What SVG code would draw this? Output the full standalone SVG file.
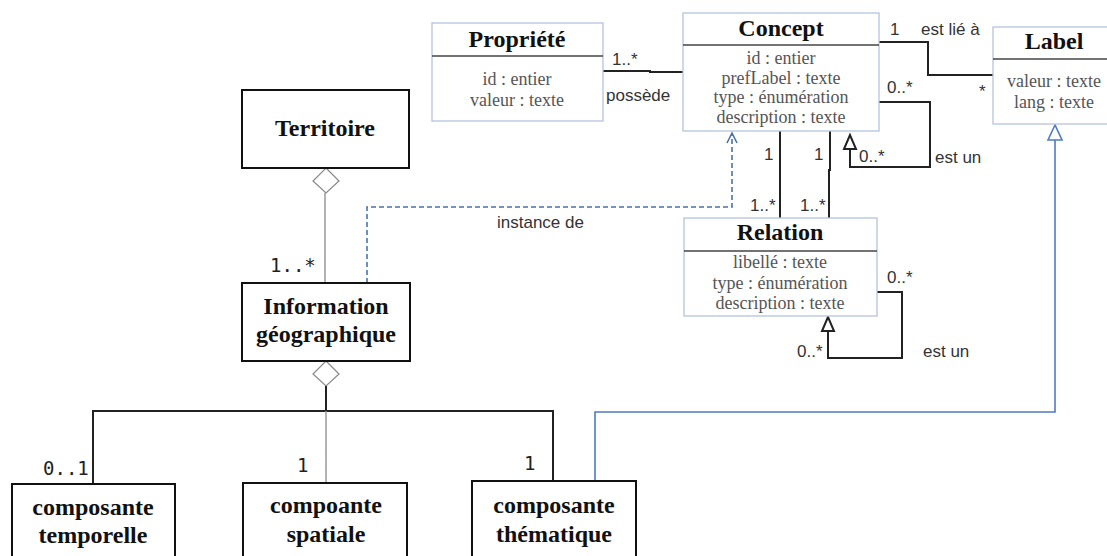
<svg xmlns="http://www.w3.org/2000/svg" width="1107" height="556" viewBox="0 0 1107 556">
<style>
.uml{fill:#fff;stroke:#b4c4dc;stroke-width:1.3}
.div{stroke:#444;stroke-width:1.3}
.box{fill:#fff;stroke:#111;stroke-width:2}
.title{font-family:"Liberation Serif",serif;font-weight:bold;font-size:24px;fill:#111;text-anchor:middle}
.attr{font-family:"Liberation Serif",serif;font-size:18px;fill:#555;text-anchor:middle}
.lbl{font-family:"Liberation Sans",Arial,sans-serif;font-size:17px;fill:#333}
.mono{font-family:"DejaVu Sans Mono",monospace;font-size:19px;fill:#222}
.ln{fill:none;stroke:#222;stroke-width:2}
.gray{fill:none;stroke:#999;stroke-width:1.5}
.blue{fill:none;stroke:#4f7bbf;stroke-width:1.6}
.dash{fill:none;stroke:#4a72b0;stroke-width:1.6;stroke-dasharray:5 3}
.tri{fill:#fff;stroke:#222;stroke-width:2}
.dia{fill:#fff;stroke:#888;stroke-width:1.2}
</style>

<g id="connectors">
  <!-- Propriété - Concept -->
  <polyline class="ln" points="603,71 650,71 650,72 683,72"/>
  <!-- Concept - Label -->
  <polyline class="ln" points="879,42 928,42 928,75 993,75"/>
  <!-- Concept self loop -->
  <polyline class="ln" points="879,102 930,102 930,167 850,167 850,149"/>
  <polygon class="tri" points="850,135 844,149 856,149"/>
  <!-- Concept - Relation -->
  <line class="ln" x1="780" y1="131" x2="780" y2="218"/>
  <polyline class="ln" points="830,131 830,170 829,170 829,218"/>
  <!-- Relation self loop -->
  <polyline class="ln" points="877,292 902,292 902,358 828,358 828,331"/>
  <polygon class="tri" points="828,317 822,331 834,331"/>
  <!-- Label generalization -->
  <polyline class="blue" points="595,481 595,412 1055,412 1055,140"/>
  <polygon points="1055,125 1048,140 1062,140" fill="#fff" stroke="#4f7bbf" stroke-width="1.6"/>
  <!-- instance de -->
  <polyline class="dash" points="367,283 367,207 732,207 732,134"/>
  <polyline points="727,143 732,133 737,143" fill="none" stroke="#4a72b0" stroke-width="1.6"/>
  <!-- Territoire - Information -->
  <line class="gray" x1="325" y1="193" x2="325" y2="283"/>
  <polygon class="dia" points="326,168 339,181 326,193 313,181"/>
  <!-- Information - composantes -->
  <polygon class="dia" points="326,361 339,374 326,386 313,374"/>
  <line class="ln" x1="326" y1="386" x2="326" y2="411"/>
  <polyline class="ln" points="93,484 93,411 553,411 553,481"/>
  <line class="gray" x1="326" y1="411" x2="326" y2="483"/>
  <!-- labels -->
  <text class="lbl" x="612" y="65" font-size="15">1..*</text>
  <text class="lbl" x="606" y="101">possède</text>
  <text class="lbl" x="890" y="35">1</text>
  <text class="lbl" x="921" y="35">est lié à</text>
  <text class="lbl" x="979" y="97">*</text>
  <text class="lbl" x="887" y="93">0..*</text>
  <text class="lbl" x="859" y="162">0..*</text>
  <text class="lbl" x="935" y="163">est un</text>
  <text class="lbl" x="764" y="160">1</text>
  <text class="lbl" x="814" y="160">1</text>
  <text class="lbl" x="750" y="211">1..*</text>
  <text class="lbl" x="800" y="211">1..*</text>
  <text class="lbl" x="887" y="283">0..*</text>
  <text class="lbl" x="797" y="357">0..*</text>
  <text class="lbl" x="923" y="357">est un</text>
  <text class="lbl" x="497" y="228">instance de</text>
  <text class="mono" x="270" y="272">1..*</text>
  <text class="mono" x="43" y="475">0..1</text>
  <text class="mono" x="297" y="472">1</text>
  <text class="mono" x="524" y="470">1</text>
</g>

<g id="propriete">
  <rect class="uml" x="432" y="23" width="171" height="98"/>
  <line class="div" x1="432" y1="56" x2="603" y2="56"/>
  <text class="title" x="517" y="47">Propriété</text>
  <text class="attr" x="517" y="85">id : entier</text>
  <text class="attr" x="517" y="106">valeur : texte</text>
</g>

<g id="concept">
  <rect class="uml" x="683" y="13" width="196" height="118"/>
  <line class="div" x1="683" y1="45" x2="879" y2="45"/>
  <text class="title" x="781" y="36">Concept</text>
  <text class="attr" x="781" y="64">id : entier</text>
  <text class="attr" x="781" y="83.5">prefLabel : texte</text>
  <text class="attr" x="781" y="103">type : énumération</text>
  <text class="attr" x="781" y="123">description : texte</text>
</g>

<g id="label">
  <rect class="uml" x="993" y="27" width="122" height="97"/>
  <line class="div" x1="993" y1="59" x2="1115" y2="59"/>
  <text class="title" x="1054" y="49">Label</text>
  <text class="attr" x="1054" y="87">valeur : texte</text>
  <text class="attr" x="1054" y="108">lang : texte</text>
</g>

<g id="relation">
  <rect class="uml" x="684" y="218" width="193" height="98"/>
  <line class="div" x1="684" y1="251" x2="877" y2="251"/>
  <text class="title" x="780" y="240">Relation</text>
  <text class="attr" x="780" y="268">libellé : texte</text>
  <text class="attr" x="780" y="289">type : énumération</text>
  <text class="attr" x="780" y="309">description : texte</text>
</g>

<g id="territoire">
  <rect class="box" x="242" y="90" width="167" height="78"/>
  <text class="title" x="325" y="136">Territoire</text>
</g>

<g id="information">
  <rect class="box" x="242" y="283" width="168" height="78"/>
  <text class="title" x="326" y="314">Information</text>
  <text class="title" x="326" y="342">géographique</text>
</g>

<g id="temporelle">
  <rect class="box" x="12" y="484" width="163" height="80"/>
  <text class="title" x="93" y="515">composante</text>
  <text class="title" x="93" y="543">temporelle</text>
</g>

<g id="spatiale">
  <rect class="box" x="243" y="483" width="164" height="80"/>
  <text class="title" x="326" y="513">compoante</text>
  <text class="title" x="326" y="542">spatiale</text>
</g>

<g id="thematique">
  <rect class="box" x="472" y="481" width="164" height="82"/>
  <text class="title" x="554" y="513">composante</text>
  <text class="title" x="554" y="542">thématique</text>
</g>
</svg>
